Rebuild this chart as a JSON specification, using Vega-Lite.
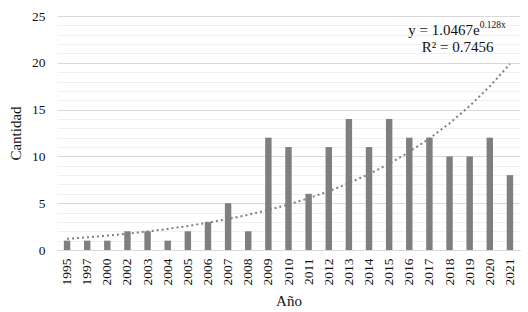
{
  "$schema": "https://vega.github.io/schema/vega-lite/v6.json",
  "width": 463,
  "height": 234,
  "autosize": {"type": "none"},
  "padding": {"left": 57, "top": 16, "right": 8, "bottom": 62},
  "background": "white",
  "config": {
    "view": {"stroke": null},
    "font": "Liberation Serif",
    "axis": {"labelFont": "Liberation Serif", "titleFont": "Liberation Serif", "labelColor": "#111", "titleColor": "#111"}
  },
  "datasets": {
    "main": [
      {"anio": "1995", "cantidad": 1, "tendencia": 1.1896},
      {"anio": "1997", "cantidad": 1, "tendencia": 1.3521},
      {"anio": "2000", "cantidad": 1, "tendencia": 1.5367},
      {"anio": "2002", "cantidad": 2, "tendencia": 1.7466},
      {"anio": "2003", "cantidad": 2, "tendencia": 1.9851},
      {"anio": "2004", "cantidad": 1, "tendencia": 2.2561},
      {"anio": "2005", "cantidad": 2, "tendencia": 2.5642},
      {"anio": "2006", "cantidad": 3, "tendencia": 2.9143},
      {"anio": "2007", "cantidad": 5, "tendencia": 3.3123},
      {"anio": "2008", "cantidad": 2, "tendencia": 3.7646},
      {"anio": "2009", "cantidad": 12, "tendencia": 4.2786},
      {"anio": "2010", "cantidad": 11, "tendencia": 4.8629},
      {"anio": "2011", "cantidad": 6, "tendencia": 5.5269},
      {"anio": "2012", "cantidad": 11, "tendencia": 6.2816},
      {"anio": "2013", "cantidad": 14, "tendencia": 7.1393},
      {"anio": "2014", "cantidad": 11, "tendencia": 8.1142},
      {"anio": "2015", "cantidad": 14, "tendencia": 9.2222},
      {"anio": "2016", "cantidad": 12, "tendencia": 10.4815},
      {"anio": "2017", "cantidad": 12, "tendencia": 11.9127},
      {"anio": "2018", "cantidad": 10, "tendencia": 13.5394},
      {"anio": "2019", "cantidad": 10, "tendencia": 15.3882},
      {"anio": "2020", "cantidad": 12, "tendencia": 17.4894},
      {"anio": "2021", "cantidad": 8, "tendencia": 19.8776}
    ],
    "notes": [
      {"anio": "2019", "y": 23.5, "texto": "y = 1.0467e", "tipo": "main"},
      {"anio": "2019", "y": 23.5, "texto": "0.128x", "tipo": "sup"},
      {"anio": "2019", "y": 21.7, "texto": "R² = 0.7456", "tipo": "r2"}
    ]
  },
  "resolve": {"axis": {"y": "independent"}, "scale": {"y": "shared"}},
  "layer": [
    {
      "data": {"name": "main"},
      "mark": {"type": "bar", "opacity": 0},
      "encoding": {
        "x": {
          "field": "anio", "type": "nominal", "sort": null,
          "scale": {"paddingInner": 0.68, "paddingOuter": 0.34},
          "axis": {
            "title": "Año", "titleFontSize": 15, "titleFontWeight": "normal", "titlePadding": 8,
            "titleFont": "Liberation Serif", "labelFont": "Liberation Serif",
            "labelAngle": -90, "labelFontSize": 13.5, "labelPadding": 8,
            "ticks": false, "domain": true, "domainColor": "#d9d9d9", "grid": false
          }
        },
        "y": {
          "field": "cantidad", "type": "quantitative",
          "scale": {"domain": [0, 25], "nice": false},
          "axis": {
            "orient": "left", "title": null, "labels": false,
            "values": [1,2,3,4,6,7,8,9,11,12,13,14,16,17,18,19,21,22,23,24],
            "ticks": false, "domain": false, "grid": true, "gridColor": "#f0f0f0"
          }
        }
      }
    },
    {
      "data": {"name": "main"},
      "mark": {"type": "bar", "color": "#7f7f7f"},
      "encoding": {
        "x": {"field": "anio", "type": "nominal", "sort": null},
        "y": {
          "field": "cantidad", "type": "quantitative",
          "axis": {
            "orient": "left",
            "title": "Cantidad", "titleFontSize": 15, "titleFontWeight": "normal", "titlePadding": 8,
            "titleFont": "Liberation Serif", "labelFont": "Liberation Serif",
            "values": [0, 5, 10, 15, 20, 25],
            "labelFontSize": 13.5, "labelPadding": 12,
            "ticks": false, "domain": false, "grid": true, "gridColor": "#d9d9d9"
          }
        }
      }
    },
    {
      "data": {"name": "main"},
      "mark": {"type": "line", "color": "#7f7f7f", "strokeWidth": 2, "strokeDash": [2, 3]},
      "encoding": {
        "x": {"field": "anio", "type": "nominal", "sort": null},
        "y": {"field": "tendencia", "type": "quantitative", "axis": null}
      }
    },
    {
      "data": {"name": "notes"},
      "transform": [{"filter": "datum.tipo === 'main'"}],
      "mark": {"type": "text", "align": "right", "baseline": "middle", "dx": 10, "fontSize": 15, "color": "#111"},
      "encoding": {
        "x": {"field": "anio", "type": "nominal", "sort": null},
        "y": {"field": "y", "type": "quantitative", "axis": null},
        "text": {"field": "texto"}
      }
    },
    {
      "data": {"name": "notes"},
      "transform": [{"filter": "datum.tipo === 'sup'"}],
      "mark": {"type": "text", "align": "left", "baseline": "middle", "dx": 10, "dy": -5, "fontSize": 9.5, "color": "#111"},
      "encoding": {
        "x": {"field": "anio", "type": "nominal", "sort": null},
        "y": {"field": "y", "type": "quantitative", "axis": null},
        "text": {"field": "texto"}
      }
    },
    {
      "data": {"name": "notes"},
      "transform": [{"filter": "datum.tipo === 'r2'"}],
      "mark": {"type": "text", "align": "center", "baseline": "middle", "dx": -12, "fontSize": 15, "color": "#111"},
      "encoding": {
        "x": {"field": "anio", "type": "nominal", "sort": null},
        "y": {"field": "y", "type": "quantitative", "axis": null},
        "text": {"field": "texto"}
      }
    }
  ]
}
